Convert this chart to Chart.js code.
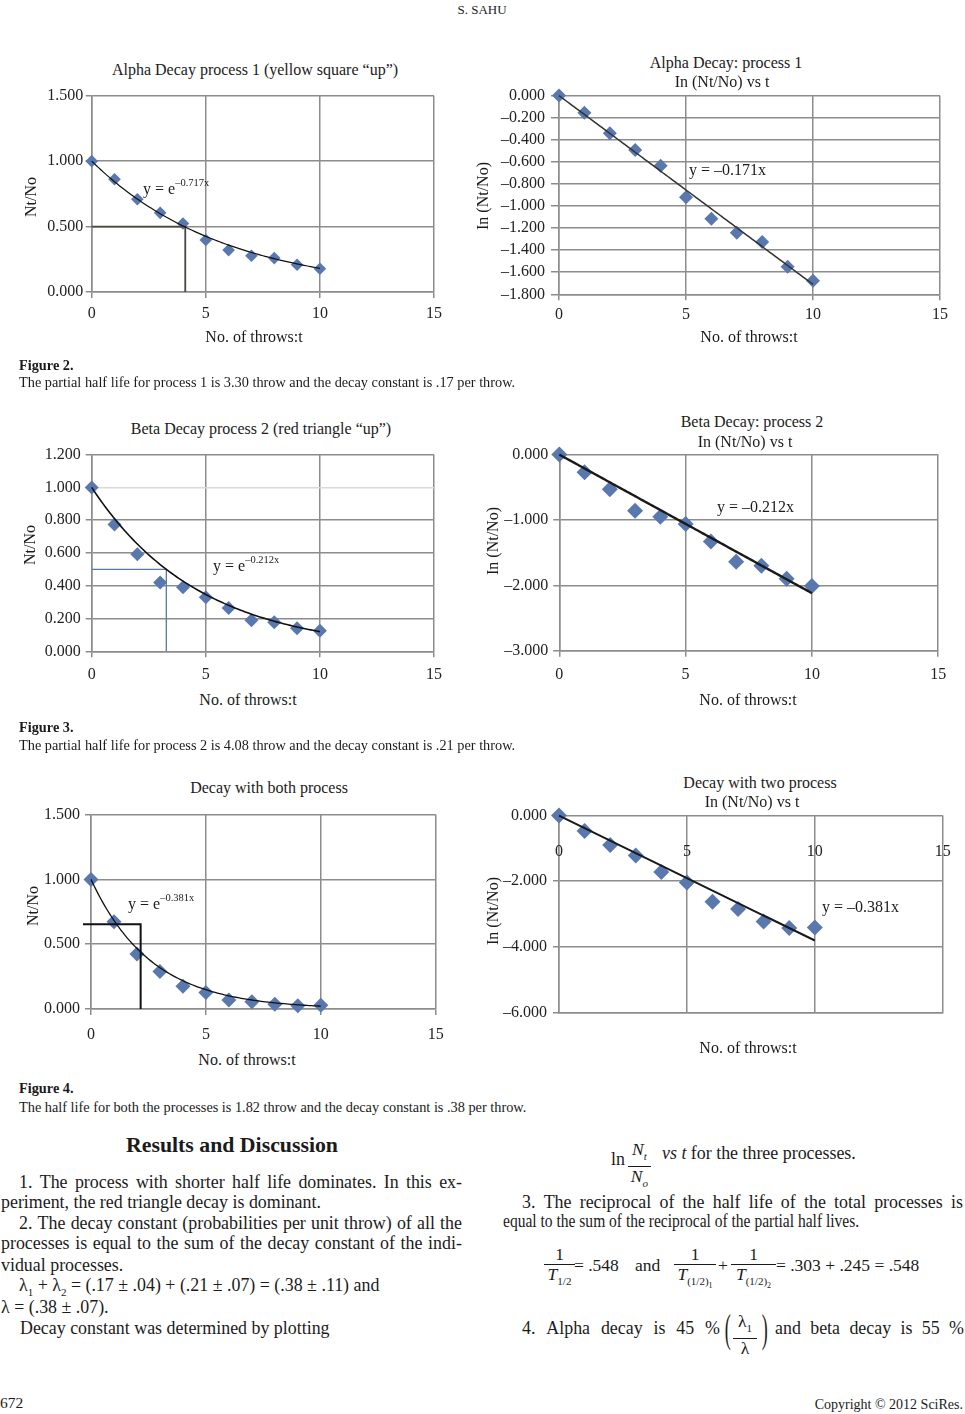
<!DOCTYPE html>
<html>
<head>
<meta charset="utf-8">
<script src="https://cdn.jsdelivr.net/npm/chart.js@4.4.1/dist/chart.umd.min.js"></script>
<style>
    body { margin: 0; background: #fff; }
    #page { position: relative; width: 965px; height: 1414px; overflow: hidden; font-family: 'Liberation Serif', 'Times New Roman', serif; color: #1b1b1b; }
    canvas { position: absolute; }
    .t { position: absolute; white-space: nowrap; font-size: 16px; line-height: 20px; }
    .c { transform: translate(-50%, -50%); }
    .l { transform: translateY(-50%); }
    .r { transform: translate(-50%, -50%) rotate(-90deg); }
    .eq sup { font-size: 10.5px; position: relative; top: -2px; }
    .cap { position: absolute; left: 19px; font-size: 14.3px; line-height: 16px; white-space: nowrap; transform: translateY(-50%); }
    .ln { position: absolute; font-size: 17.9px; line-height: 20px; height: 20px; white-space: nowrap; transform: translateY(-50%); }
    .j { display: flex; justify-content: space-between; }
    .frac { position: absolute; display: flex; flex-direction: column; align-items: center; font-size: 17.5px; line-height: 19px; }
    .frac .num { border-bottom: 1px solid #1b1b1b; padding: 0 2px; width: 100%; text-align: center; }
    .frac sub { font-size: 11px; }
    .paren { position: absolute; font-size: 40px; line-height: 40px; transform: translateY(-50%) scaleX(0.45); font-weight: 300; }
</style>
</head>
<body>
<div id="page">
    <div class="t c" style="left:482px;top:10px;font-size:13px;">S. SAHU</div>

    <!-- chart titles -->
    <div class="t c" style="left:255px;top:70px;">Alpha Decay process 1 (yellow square “up”)</div>
    <div class="t c" style="left:726px;top:63px;">Alpha Decay: process 1</div>
    <div class="t c" style="left:722px;top:82px;">In (Nt/No) vs t</div>
    <div class="t c" style="left:261px;top:429px;">Beta Decay process 2 (red triangle “up”)</div>
    <div class="t c" style="left:752px;top:422px;">Beta Decay: process 2</div>
    <div class="t c" style="left:745px;top:442px;">In (Nt/No) vs t</div>
    <div class="t c" style="left:269px;top:788px;">Decay with both process</div>
    <div class="t c" style="left:760px;top:783px;">Decay with two process</div>
    <div class="t c" style="left:752px;top:802px;">In (Nt/No) vs t</div>

    <!-- axis titles -->
    <div class="t c" style="left:254px;top:337px;">No. of throws:t</div>
    <div class="t c" style="left:749px;top:337px;">No. of throws:t</div>
    <div class="t c" style="left:248px;top:700px;">No. of throws:t</div>
    <div class="t c" style="left:748px;top:700px;">No. of throws:t</div>
    <div class="t c" style="left:247px;top:1060px;">No. of throws:t</div>
    <div class="t c" style="left:748px;top:1048px;">No. of throws:t</div>
    <div class="t r" style="left:31px;top:197px;">Nt/No</div>
    <div class="t r" style="left:483px;top:196px;">In (Nt/No)</div>
    <div class="t r" style="left:30px;top:545px;">Nt/No</div>
    <div class="t r" style="left:493px;top:541px;">In (Nt/No)</div>
    <div class="t r" style="left:33px;top:906px;">Nt/No</div>
    <div class="t r" style="left:493px;top:911px;">In (Nt/No)</div>

    <!-- captions -->
    <div class="cap" style="top:365px;font-weight:bold;">Figure 2.</div>
    <div class="cap" style="top:382px;">The partial half life for process 1 is 3.30 throw and the decay constant is .17 per throw.</div>
    <div class="cap" style="top:727px;font-weight:bold;">Figure 3.</div>
    <div class="cap" style="top:745px;">The partial half life for process 2 is 4.08 throw and the decay constant is .21 per throw.</div>
    <div class="cap" style="top:1088px;font-weight:bold;">Figure 4.</div>
    <div class="cap" style="top:1107px;">The half life for both the processes is 1.82 throw and the decay constant is .38 per throw.</div>

    <!-- left column -->
    <div class="t c" style="left:232px;top:1145px;font-size:21.8px;font-weight:bold;">Results and Discussion</div>
    <div class="ln j" style="left:19px;width:443px;top:1182px;">1. The process with shorter half life dominates. In this ex-</div>
    <div class="ln" style="left:1px;top:1202px;">periment, the red triangle decay is dominant.</div>
    <div class="ln j" style="left:19px;width:443px;top:1223px;">2. The decay constant (probabilities per unit throw) of all the</div>
    <div class="ln j" style="left:1px;width:461px;top:1243px;">processes is equal to the sum of the decay constant of the indi-</div>
    <div class="ln" style="left:1px;top:1265px;">vidual processes.</div>
    <div class="ln" style="left:19px;top:1285px;">λ<sub style="font-size:11px">1</sub> + λ<sub style="font-size:11px">2</sub> = (.17 ± .04) + (.21 ± .07) = (.38 ± .11) and</div>
    <div class="ln" style="left:1px;top:1307px;">λ = (.38 ± .07).</div>
    <div class="ln" style="left:20px;top:1328px;">Decay constant was determined by plotting</div>

    <!-- right column -->
    <div class="t l" style="left:611px;top:1159px;font-size:17.9px;">ln</div>
    <div class="frac" style="left:630px;top:1140px;"><span class="num"><i>N<sub>t</sub></i></span><span><i>N<sub>o</sub></i></span></div>
    <div class="t l" style="left:662px;top:1153px;font-size:17.9px;"><i>vs t</i> for the three processes.</div>
    <div class="ln j" style="left:522px;width:441px;top:1202px;">3. The reciprocal of the half life of the total processes is</div>
    <div class="ln" style="left:503px;top:1221px;transform:translateY(-50%) scaleX(0.868);transform-origin:left center;">equal to the sum of the reciprocal of the partial half lives.</div>

    <div class="frac" style="left:546px;top:1245px;width:27px;"><span class="num">1</span><span><i>T</i><sub>1/2</sub></span></div>
    <div class="t l" style="left:574px;top:1265px;font-size:17.5px;">= .548</div>
    <div class="t l" style="left:635px;top:1265px;font-size:17.5px;">and</div>
    <div class="frac" style="left:676px;top:1245px;width:38px;"><span class="num">1</span><span><i>T</i><sub>(1/2)<sub style="font-size:8px">1</sub></sub></span></div>
    <div class="t l" style="left:718px;top:1265px;font-size:17.5px;">+</div>
    <div class="frac" style="left:733px;top:1245px;width:41px;"><span class="num">1</span><span><i>T</i><sub>(1/2)<sub style="font-size:8px">2</sub></sub></span></div>
    <div class="t l" style="left:776px;top:1265px;font-size:17.5px;">= .303 + .245 = .548</div>

    <div class="ln j" style="left:522px;width:198px;top:1328px;">4. Alpha decay is 45 %</div>
    <div class="paren" style="left:721px;top:1329px;">(</div>
    <div class="frac" style="left:735px;top:1312px;width:20px;"><span class="num">λ<sub>1</sub></span><span>λ</span></div>
    <div class="paren" style="left:758px;top:1329px;">)</div>
    <div class="ln j" style="left:775px;width:189px;top:1328px;">and beta decay is 55 %</div>

    <div class="t l" style="left:0px;top:1403px;font-size:15.5px;">672</div>
    <div class="t l" style="right:2px;top:1405px;font-size:14px;">Copyright © 2012 SciRes.</div>

    <!-- fit equations -->
    <div class="t l eq" style="left:143px;top:187px;">y = e<sup>–0.717x</sup></div>
    <div class="t l eq" style="left:689px;top:170px;">y = –0.171x</div>
    <div class="t l eq" style="left:213px;top:564px;">y = e<sup>–0.212x</sup></div>
    <div class="t l eq" style="left:717px;top:507px;">y = –0.212x</div>
    <div class="t l eq" style="left:128px;top:902px;">y = e<sup>–0.381x</sup></div>
    <div class="t l eq" style="left:822px;top:907px;">y = –0.381x</div>
</div>

<script>
// --- DATA ---
const throws = [0, 1, 2, 3, 4, 5, 6, 7, 8, 9, 10];
const alphaRatio = [1.000, 0.862, 0.709, 0.605, 0.524, 0.397, 0.320, 0.277, 0.259, 0.208, 0.178];
const alphaLn = [0.000, -0.156, -0.342, -0.492, -0.636, -0.921, -1.116, -1.242, -1.326, -1.551, -1.677];
const betaRatio = [1.000, 0.773, 0.592, 0.419, 0.391, 0.330, 0.264, 0.189, 0.177, 0.141, 0.125];
const betaLn = [0.000, -0.27, -0.53, -0.86, -0.95, -1.06, -1.33, -1.64, -1.70, -1.90, -2.01];
const bothRatio = [1.000, 0.674, 0.425, 0.290, 0.175, 0.127, 0.069, 0.056, 0.036, 0.025, 0.028];
const bothLn = [0.000, -0.47, -0.90, -1.22, -1.72, -2.04, -2.63, -2.85, -3.23, -3.43, -3.41];

// decay constants of the fitted trend lines
const fitK = { alpha: 0.171, beta: 0.212, both: 0.381 };

// half-life guide lines
const alphaGuide = [{ x: 0, y: 0.5 }, { x: 4.1, y: 0.5 }, { x: 4.1, y: 0 }];
const betaGuide = [{ x: 0, y: 0.5 }, { x: 3.27, y: 0.5 }, { x: 3.27, y: 0 }];
const bothGuide = [{ x: -0.35, y: 0.653 }, { x: 2.16, y: 0.653 }, { x: 2.16, y: 0 }];

// tick labels
const xTickValues = [0, 5, 10, 15];
const ratioTicksA = [0, 0.5, 1.0, 1.5];
const lnTicksA = [-1.8, -1.6, -1.4, -1.2, -1.0, -0.8, -0.6, -0.4, -0.2, 0];
const ratioTicksB = [0, 0.2, 0.4, 0.6, 0.8, 1.0, 1.2];
const lnTicksB = [-3, -2, -1, 0];
const ratioTicksC = [0, 0.5, 1.0, 1.5];
const lnTicksC = [-6, -4, -2, 0];

const MARKER = '#5878ae';
const GRID = '#8c8c8c';
const FONT = { family: "'Liberation Serif', 'Times New Roman', serif", size: 16 };

const fmt3 = v => (v < -1e-9 ? '–' : '') + Math.abs(v).toFixed(3);

// justified single lines: spread the words across the line box
document.querySelectorAll('.j').forEach(el => {
    const words = el.textContent.trim().split(/\s+/);
    el.textContent = '';
    words.forEach(w => { const s = document.createElement('span'); s.textContent = w; el.appendChild(s); });
});

// trend line drawn through the chart scales
const fitCurve = {
    id: 'fitCurve',
    afterDatasetsDraw(chart, args, opts) {
        if (opts.k == null) return;
        const { ctx, scales: { x, y } } = chart;
        ctx.save();
        ctx.beginPath();
        for (let i = 0; i <= 100; i++) {
            const t = i / 10;
            const v = opts.log ? -opts.k * t : Math.exp(-opts.k * t);
            const px = x.getPixelForValue(t), py = y.getPixelForValue(v);
            if (i === 0) ctx.moveTo(px, py); else ctx.lineTo(px, py);
        }
        ctx.strokeStyle = opts.color || '#111';
        ctx.lineWidth = opts.width || 1.2;
        ctx.stroke();
        ctx.restore();
    }
};

// x labels sitting under the zero line (axis crossing at 0)
const innerXLabels = {
    id: 'innerXLabels',
    afterDraw(chart, args, opts) {
        if (!opts.show) return;
        const { ctx, scales: { x, y } } = chart;
        ctx.save();
        ctx.font = `${FONT.size}px ${FONT.family}`;
        ctx.fillStyle = '#222';
        ctx.textAlign = 'center';
        ctx.textBaseline = 'middle';
        const yy = y.getPixelForValue(0) + opts.offset;
        xTickValues.forEach(v => ctx.fillText(String(v), x.getPixelForValue(v), yy));
        ctx.restore();
    }
};

function decayChart(cfg) {
    const [bl, bt, bw, bh] = cfg.box;
    const [pl, pt, pr, pb] = cfg.plot;
    const cv = document.createElement('canvas');
    cv.width = bw; cv.height = bh;
    cv.style.left = bl + 'px'; cv.style.top = bt + 'px';
    cv.style.width = bw + 'px'; cv.style.height = bh + 'px';
    document.getElementById('page').prepend(cv);

    const datasets = [{
        data: throws.map((t, i) => ({ x: t, y: cfg.values[i] })),
        pointStyle: 'rectRot', pointRadius: cfg.r, backgroundColor: MARKER, borderWidth: 0, clip: false, order: 2
    }];
    if (cfg.guide) {
        datasets.push({
            data: cfg.guide, showLine: true, pointRadius: 0, borderColor: cfg.guideColor,
            borderWidth: cfg.guideWidth, clip: false, order: 1
        });
    }

    return new Chart(cv, {
        type: 'scatter',
        data: { datasets },
        plugins: [fitCurve, innerXLabels],
        options: {
            responsive: false, animation: false, events: [],
            layout: { autoPadding: false, padding: { left: 0, top: pt - bt, right: bl + bw - pr, bottom: 0 } },
            plugins: {
                legend: { display: false }, tooltip: { enabled: false },
                fitCurve: { k: cfg.k, log: cfg.log, color: cfg.fitColor, width: cfg.fitWidth },
                innerXLabels: { show: !!cfg.innerX, offset: cfg.innerX || 0 }
            },
            scales: {
                x: {
                    type: 'linear', min: 0, max: 15,
                    afterBuildTicks: a => { a.ticks = xTickValues.map(v => ({ value: v })); },
                    afterFit: a => { a.height = bt + bh - pb; },
                    ticks: { display: !cfg.innerX, autoSkip: false, padding: cfg.xPad, font: FONT, color: '#222', maxRotation: 0 },
                    grid: { color: GRID, lineWidth: 1.5, drawTicks: !cfg.innerX, tickLength: 6 },
                    border: { color: GRID, width: 1.5 }
                },
                y: {
                    min: Math.min(...cfg.yTicks), max: Math.max(...cfg.yTicks),
                    afterBuildTicks: a => { a.ticks = cfg.yTicks.map(v => ({ value: v })); },
                    afterFit: a => { a.width = pl - bl; },
                    ticks: { autoSkip: false, padding: cfg.yPad, font: FONT, color: '#222', callback: fmt3 },
                    grid: {
                        color: c => (cfg.lightOne && c.tick && Math.abs(c.tick.value - 1) < 1e-6) ? '#d9d9d9' : GRID,
                        lineWidth: 1.5, tickLength: cfg.yTick || 6
                    },
                    border: { color: GRID, width: 1.5 }
                }
            }
        }
    });
}

// --- BUILD THE SIX CHARTS ---
decayChart({ box: [20, 80, 440, 250], plot: [91.7, 95.7, 434, 292], values: alphaRatio, yTicks: ratioTicksA,
    r: 6.3, k: fitK.alpha, fitWidth: 1.2, guide: alphaGuide, guideColor: '#4a4640', guideWidth: 1.8, xPad: 6.5, yPad: 2.5 });
decayChart({ box: [470, 80, 485, 250], plot: [559, 94.3, 940, 294.3], values: alphaLn, yTicks: lnTicksA,
    r: 7, k: fitK.alpha, log: true, fitWidth: 1.5, fitColor: '#333', xPad: 5.2, yPad: 6, yTick: 8 });
decayChart({ box: [20, 440, 440, 250], plot: [91.7, 452.7, 434, 651.3], values: betaRatio, yTicks: ratioTicksB,
    r: 7, k: fitK.beta, fitWidth: 1.6, guide: betaGuide, guideColor: '#5a78a8', guideWidth: 1.3, lightOne: true, xPad: 8.2, yPad: 5 });
decayChart({ box: [470, 440, 485, 250], plot: [559.3, 453.3, 941.7, 650.7], values: betaLn, yTicks: lnTicksB,
    r: 8, k: fitK.beta, log: true, fitWidth: 2.4, fitColor: '#1a1a1a', xPad: 8.8, yPad: 5 });
decayChart({ box: [20, 800, 440, 250], plot: [91, 812.3, 435.7, 1009], values: bothRatio, yTicks: ratioTicksC,
    r: 7.5, k: fitK.both, fitWidth: 1.3, guide: bothGuide, guideColor: '#111', guideWidth: 2, xPad: 10.5, yPad: 5 });
decayChart({ box: [470, 800, 485, 250], plot: [559, 812.7, 942.7, 1012.3], values: bothLn, yTicks: lnTicksC,
    r: 8, k: fitK.both, log: true, fitWidth: 2, fitColor: '#1a1a1a', innerX: 36, yPad: 6 });
</script>
</body>
</html>
